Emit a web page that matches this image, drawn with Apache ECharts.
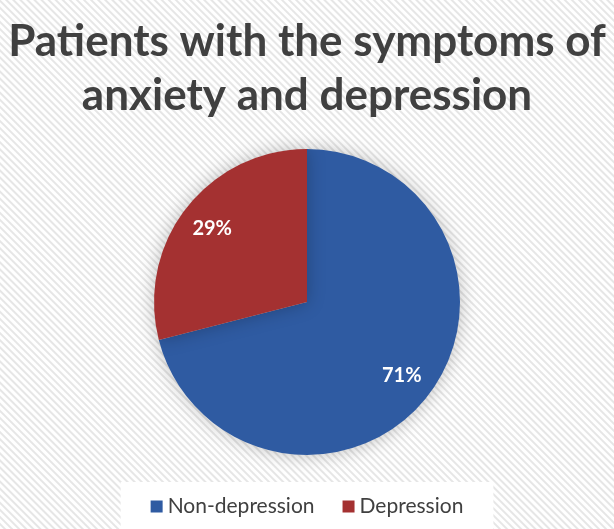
<!DOCTYPE html>
<html>
<head>
<meta charset="utf-8">
<script src="https://cdn.jsdelivr.net/npm/echarts@6/dist/echarts.min.js"></script>
<style>
    html, body {
        margin: 0;
        padding: 0;
    }
    body {
        /* striped backdrop like the original slide */
        background: #fff repeating-linear-gradient(45deg, #ffffff 0px, #ffffff 2px, #e6e6e6 3px, #e6e6e6 4px, #ffffff 5px);
    }
    #pie {
        width: 614px;
        height: 529px;
    }
</style>
</head>
<body>
<div id="pie"></div>
<script>
// data
let groupNames = ['Non-depression', 'Depression'];
let groupValues = [71, 29];
let groupColors = ['#2f5ba2', '#a43131'];
let labelShift = [[32, 25], [-32, -25]]; /* push labels outward */

var myChartPie = echarts.init(document.getElementById('pie'));

var pieData = groupNames.map((name, i) => ({
    name: name,
    value: groupValues[i],
    itemStyle: { color: groupColors[i] },
    label: { offset: labelShift[i] }
}));

var optionPie = {
    backgroundColor: 'transparent',
    title: {
        text: 'Patients with the symptoms of\nanxiety and depression',
        left: 'center',
        top: 10,
        textStyle: {
            fontFamily: 'Lato',
            fontWeight: 'bold',
            fontSize: 44,
            lineHeight: 54,
            color: '#404040'
        }
    },
    legend: {
        bottom: -4,
        left: 'center',
        backgroundColor: '#ffffff',
        padding: [14, 30, 16, 30],
        itemGap: 28,
        itemWidth: 12,
        itemHeight: 12,
        icon: 'rect',
        textStyle: {
            fontFamily: 'Lato',
            fontSize: 21,
            color: '#404040'
        },
        data: groupNames
    },
    series: [
        {
            type: 'pie',
            center: [307, 302],
            radius: 153,
            startAngle: 90,
            clockwise: true,
            silent: true,
            data: pieData,
            itemStyle: {
                shadowBlur: 18,
                shadowColor: 'rgba(0, 0, 0, 0.25)'
            },
            label: {
                show: true,
                position: 'inside',
                formatter: '{c}%',
                fontFamily: 'Lato',
                fontWeight: 'bold',
                fontSize: 20,
                color: '#ffffff'
            },
            labelLine: { show: false }
        }
    ]
};

myChartPie.setOption(optionPie);
</script>
</body>
</html>
